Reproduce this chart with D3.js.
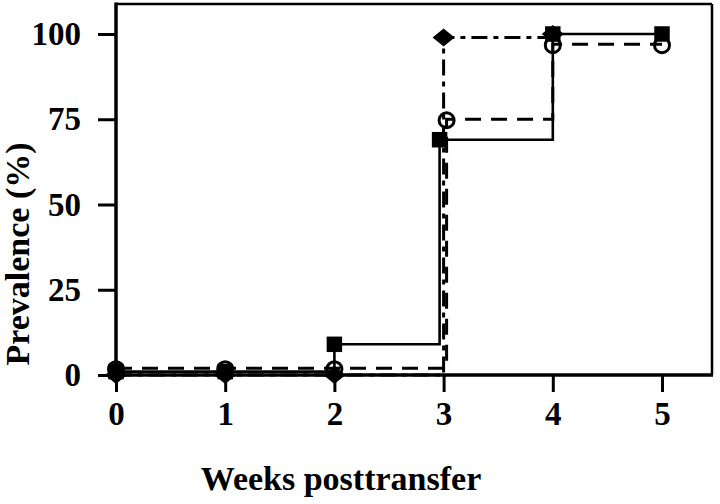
<!DOCTYPE html>
<html>
<head>
<meta charset="utf-8">
<script src="https://cdn.jsdelivr.net/npm/d3@7"></script>
<style>
  html, body { margin: 0; padding: 0; background: #fff; }
  svg { display: block; }
</style>
</head>
<body>
<svg id="chart" width="720" height="504"></svg>
<script>
// ---- data ----
const weeks = [0, 1, 2, 3, 4, 5];
const xTickLabels = ["0", "1", "2", "3", "4", "5"];
const yTickValues = [0, 25, 50, 75, 100];
const squareSeries = [1, 1, 9, 69, 100, 100];     // solid line, filled squares
const circleSeries = [2, 2, 2, 75, 97, 97];       // dashed line, open circles
const diamondSeries = [0, 0, 0, 99, 100];          // dash-dot line, filled diamonds
const xTitle = "Weeks posttransfer";
const yTitle = "Prevalence (%)";

// ---- layout ----
const svg = d3.select("#chart");
const box = { left: 116, right: 712, top: 4, bottom: 375 };
const x = d3.scaleLinear().domain([0, 5]).range([116, 662]);
const y = d3.scaleLinear().domain([0, 100]).range([375, 34]);
const font = "'Liberation Serif', 'Times New Roman', serif";

// frame
svg.append("line").attr("x1", box.left).attr("x2", box.right).attr("y1", box.top).attr("y2", box.top)
  .attr("stroke", "#000").attr("stroke-width", 2.5);
svg.append("line").attr("x1", box.right).attr("x2", box.right).attr("y1", box.top).attr("y2", box.bottom)
  .attr("stroke", "#000").attr("stroke-width", 2.5);

// axes
const yAxis = d3.axisLeft(y).tickValues(yTickValues).tickSize(18).tickPadding(17).tickFormat(d3.format("d"));
const gy = svg.append("g").attr("transform", `translate(${box.left},0)`).call(yAxis);
const xAxis = d3.axisBottom(x).tickValues(weeks).tickSize(17).tickPadding(10)
  .tickFormat((d, i) => xTickLabels[i]);
const gx = svg.append("g").attr("transform", `translate(0,${box.bottom})`).call(xAxis);
[gx, gy].forEach(g => {
  g.select(".domain").remove();
  g.selectAll(".tick line").attr("stroke", "#000").attr("stroke-width", 3);
  g.selectAll(".tick text").attr("fill", "#000").attr("font-family", font)
    .attr("font-weight", "bold").attr("font-size", 33);
});
gx.selectAll(".tick text").attr("dy", "0.7em");

svg.append("line").attr("x1", box.left).attr("x2", box.left).attr("y1", box.top - 1.5).attr("y2", box.bottom + 1.5)
  .attr("stroke", "#000").attr("stroke-width", 3.5);
svg.append("line").attr("x1", box.left).attr("x2", box.right + 1).attr("y1", box.bottom).attr("y2", box.bottom)
  .attr("stroke", "#000").attr("stroke-width", 3.5);

// titles
svg.append("text").attr("x", 341).attr("y", 490).attr("text-anchor", "middle")
  .attr("font-family", font).attr("font-weight", "bold").attr("font-size", 34).text(xTitle);
svg.append("text").attr("transform", "translate(29,254) rotate(-90)").attr("text-anchor", "middle")
  .attr("font-family", font).attr("font-weight", "bold").attr("font-size", 34).text(yTitle);

// series
const series = [
  { vals: circleSeries, dash: "16,10", width: 3, dx: 3, marker: "circle" },
  { vals: diamondSeries, dash: "16,6,5,6", width: 3, dx: 0, marker: "diamond" },
  { vals: squareSeries, dash: null, width: 2.6, dx: -4, marker: "square" }
];

const line = (dx) => d3.line()
  .x((d, i) => x(weeks[i]) + (i === 3 ? dx : 0))
  .y(d => y(d))
  .curve(d3.curveStepAfter);

const gl = svg.append("g");
series.forEach(s => {
  gl.append("path").datum(s.vals).attr("d", line(s.dx)).attr("fill", "none")
    .attr("stroke", "#000").attr("stroke-width", s.width)
    .attr("stroke-dasharray", s.dash);
});

const diamondPath = "M0,-9 L11,0 L0,9 L-11,0 Z";
const gm = svg.append("g");
series.forEach(s => {
  const sel = gm.selectAll(null).data(s.vals).enter();
  const px = (d, i) => x(weeks[i]) + (i === 3 ? s.dx : 0);
  if (s.marker === "circle") {
    sel.append("circle").attr("cx", px).attr("cy", d => y(d) + 1).attr("r", 7.5)
      .attr("fill", "none").attr("stroke", "#000").attr("stroke-width", 3);
  } else if (s.marker === "square") {
    sel.append("path").attr("transform", (d, i) => `translate(${px(d, i)},${y(d)})`)
      .attr("d", d3.symbol(d3.symbolSquare, 240)()).attr("fill", "#000");
  } else {
    sel.append("path").attr("transform", (d, i) => `translate(${px(d, i)},${y(d)})`)
      .attr("d", diamondPath).attr("fill", "#000");
  }
});
</script>
</body>
</html>
